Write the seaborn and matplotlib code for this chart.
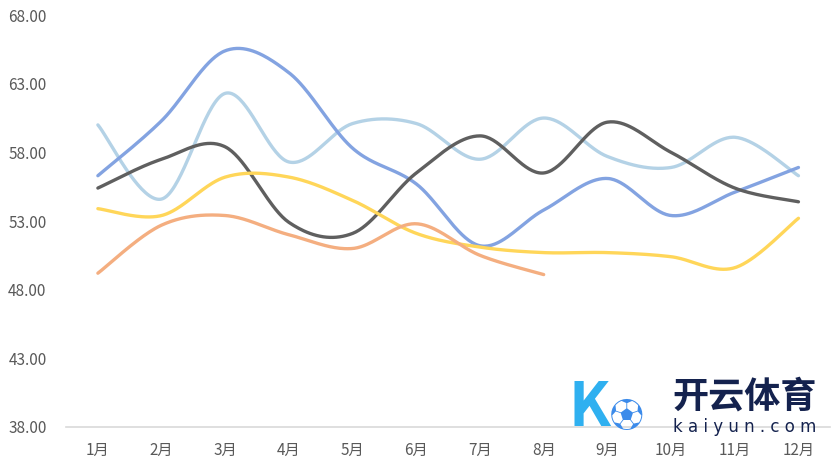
import numpy as np
import pandas as pd
import seaborn as sns
import matplotlib.pyplot as plt

months = ['1月', '2月', '3月', '4月', '5月', '6月', '7月', '8月', '9月', '10月', '11月', '12月']

# values
blue = [56.3, 60.3, 65.4, 63.8, 58.3, 55.7, 51.2, 53.8, 56.1, 53.4, 55.1, 56.9]
light_blue = [60.0, 54.6, 62.3, 57.3, 60.1, 60.1, 57.5, 60.5, 57.7, 56.9, 59.1, 56.3]
gray = [55.4, 57.5, 58.4, 52.9, 52.1, 56.5, 59.2, 56.5, 60.2, 58.0, 55.4, 54.4]
yellow = [53.9, 53.4, 56.2, 56.2, 54.5, 52.1, 51.1, 50.7, 50.7, 50.4, 49.6, 53.2]
orange = [49.2, 52.7, 53.4, 52.0, 51.0, 52.8, 50.5, 49.1]

series = {'light_blue': light_blue, 'blue': blue, 'gray': gray, 'yellow': yellow, 'orange': orange}
colors = {'light_blue': '#B4D2E6', 'blue': '#83A3E1', 'gray': '#5F5F5F',
          'yellow': '#FFD659', 'orange': '#F4AE80'}
yticks = [38, 43, 48, 53, 58, 63, 68]


def smooth(ys, n=40):
    # Excel-style smoothed line (Catmull-Rom bezier)
    p = np.column_stack([np.arange(len(ys)), ys]).astype(float)
    pts = np.vstack([p[0], p, p[-1]])
    out = []
    t = np.linspace(0, 1, n)[:, None]
    for i in range(1, len(pts) - 2):
        p0, p1, p2, p3 = pts[i - 1], pts[i], pts[i + 1], pts[i + 2]
        c1 = p1 + (p2 - p0) / 6
        c2 = p2 - (p3 - p1) / 6
        seg = ((1 - t) ** 3) * p1 + 3 * ((1 - t) ** 2) * t * c1 + 3 * (1 - t) * t ** 2 * c2 + t ** 3 * p2
        out.append(seg if i == 1 else seg[1:])
    return np.vstack(out)


frames = []
for name, vals in series.items():
    s = smooth(vals)
    frames.append(pd.DataFrame({'x': s[:, 0], 'y': s[:, 1], 'series': name}))
df = pd.concat(frames, ignore_index=True)

sns.set_style('white')
plt.rcParams['font.family'] = ['Noto Sans CJK SC', 'DejaVu Sans']

fig = plt.figure(figsize=(8.38, 4.66), dpi=100)
ax = fig.add_axes([0.0788, 0.0837, 0.912, 0.884])
sns.lineplot(data=df, x='x', y='y', hue='series', palette=colors, sort=False,
             estimator=None, linewidth=2.4, legend=False, ax=ax)

ax.set_xlim(-0.5, 11.5)
ax.set_ylim(38, 68)
ax.set_xticks(range(12))
ax.set_xticklabels(months)
ax.set_yticks(yticks)
ax.set_yticklabels([f'{v:.2f}' for v in yticks])
ax.set_xlabel('')
ax.set_ylabel('')
ax.tick_params(axis='both', length=0, labelsize=11, labelcolor='#595959')
ax.tick_params(axis='y', pad=14)
ax.tick_params(axis='x', pad=11)
for side in ['top', 'right', 'left']:
    ax.spines[side].set_visible(False)
ax.spines['bottom'].set_color('#D9D9D9')
ax.spines['bottom'].set_linewidth(1.2)

# watermark
fig.text(0.703, 0.125, 'K', fontsize=44, fontstyle='italic', fontweight='bold',
         color='#2FB0F0', ha='center', va='center')
fig.text(0.748, 0.105, '⚽', fontsize=24, color='#3C8BEA', ha='center', va='center')
fig.text(0.889, 0.148, '开云体育', fontsize=26, fontweight='bold', color='#14224E',
         ha='center', va='center')
fig.text(0.889, 0.083, 'k a i y u n . c o m', fontsize=12, color='#14224E',
         ha='center', va='center', family='DejaVu Sans')

fig.savefig('out.png', dpi=100)
